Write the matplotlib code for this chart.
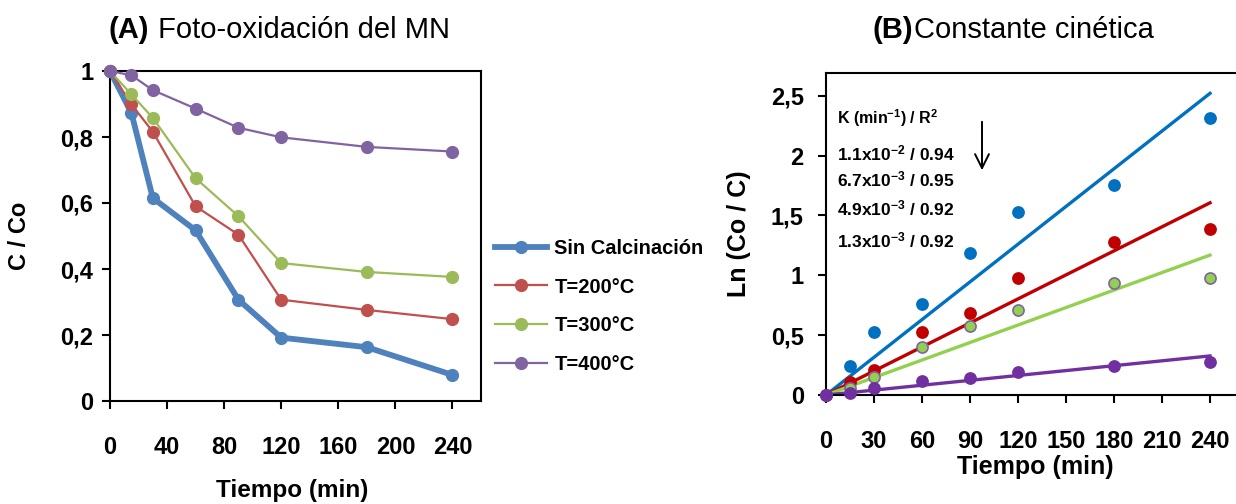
import matplotlib
matplotlib.use("Agg")
import matplotlib.pyplot as plt
import numpy as np

plt.rcParams['font.family'] = ['Liberation Sans', 'DejaVu Sans']
plt.rcParams['mathtext.fontset'] = 'custom'
plt.rcParams['mathtext.rm'] = 'Liberation Sans:bold'
plt.rcParams['mathtext.default'] = 'rm'

W, H = 1236, 504

# tiempo de muestreo (min)
t = [0, 15, 30, 60, 90, 120, 180, 240]

# (A) C/Co
cc_sin = [1.0, 0.873, 0.615, 0.517, 0.307, 0.192, 0.163, 0.079]
cc_200 = [1.0, 0.899, 0.816, 0.590, 0.504, 0.307, 0.276, 0.248]
cc_300 = [1.0, 0.929, 0.858, 0.675, 0.560, 0.418, 0.391, 0.376]
cc_400 = [1.0, 0.987, 0.942, 0.886, 0.828, 0.799, 0.770, 0.756]
labels_a = ['Sin Calcinación', 'T=200°C', 'T=300°C', 'T=400°C']

# (B) Ln(Co/C)
ln_sin = [0.0, 0.242, 0.523, 0.760, 1.183, 1.526, 1.751, 2.313]
ln_200 = [0.0, 0.111, 0.209, 0.523, 0.682, 0.974, 1.281, 1.386]
ln_300 = [0.0, 0.060, 0.153, 0.398, 0.579, 0.710, 0.938, 0.974]
ln_400 = [0.0, 0.014, 0.056, 0.120, 0.139, 0.195, 0.245, 0.276]
# pendientes de las rectas de ajuste (min^-1)
k_fit = [0.0105, 0.00669, 0.00487, 0.00136]
t_fit = [0, 240]
k_head = 'K (min$^{-1}$) / R$^{2}$'
k_text = ['1.1x10$^{-2}$ / 0.94', '6.7x10$^{-3}$ / 0.95',
          '4.9x10$^{-3}$ / 0.92', '1.3x10$^{-3}$ / 0.92']

cols_a = ['#4F81BD', '#C0504D', '#9BBB59', '#8064A2']
cols_b = ['#0070C0', '#C00000', '#92D050', '#7030A0']


def box(x0, y0, x1, y1):
    # pixel box (top-left origin) -> figure fraction rect
    return [x0 / W, 1 - y1 / H, (x1 - x0) / W, (y1 - y0) / H]


def fx(x):
    return x / W


def fy(y):
    return 1 - y / H


fig = plt.figure(figsize=(W / 100, H / 100), dpi=100)

# ---------------- (A) ----------------
ax1 = fig.add_axes(box(110, 71, 481, 401))
series_a = [cc_sin, cc_200, cc_300, cc_400]
for i, yv in enumerate(series_a):
    lw = 4.2 if i == 0 else 1.6
    ax1.plot(t, yv, '-o', color=cols_a[i], lw=lw, ms=8.5, label=labels_a[i],
             clip_on=False, zorder=3)
ax1.set_xlim(0, 260)
ax1.set_ylim(0, 1)
ax1.set_xticks(np.arange(0, 241, 40))
ax1.set_yticks(np.arange(0, 1.01, 0.2))
ax1.set_yticklabels(['0', '0,2', '0,4', '0,6', '0,8', '1'])
ax1.tick_params(direction='out', length=6, width=1.5, labelsize=17)
ax1.tick_params(axis='x', pad=19)
ax1.tick_params(axis='y', pad=6)
for lab in ax1.get_xticklabels() + ax1.get_yticklabels():
    lab.set_fontweight('bold')
for s in ax1.spines.values():
    s.set_linewidth(1.5)
fig.text(fx(19), fy(236), 'C / Co', rotation=90, ha='center', va='center',
         fontsize=17, fontweight='bold')
fig.text(fx(292), fy(490), 'Tiempo (min)', ha='center', va='center',
         fontsize=17.5, fontweight='bold')
leg = ax1.legend(loc='upper left', bbox_to_anchor=(fx(495), fy(239)),
                 bbox_transform=fig.transFigure, frameon=False, borderpad=0,
                 borderaxespad=0, handlelength=2.6, handletextpad=0.35,
                 labelspacing=0.97, prop={'weight': 'bold', 'size': 14.5})
ta = fig.text(fx(109), fy(30), '(A)', fontsize=21, fontweight='bold', va='center')
ax1.annotate(' Foto-oxidación del MN', xy=(1, 0), xycoords=ta, va='bottom',
             fontsize=21)

# ---------------- (B) ----------------
ax2 = fig.add_axes(box(826, 73, 1258, 395))
series_b = [ln_sin, ln_200, ln_300, ln_400]
for i in range(4):
    ax2.plot(t_fit, np.array(t_fit) * k_fit[i], color=cols_b[i], lw=2.4, zorder=2)
for i, yv in enumerate(series_b):
    mec = '#8064A2' if i == 2 else cols_b[i]
    ax2.plot(t, yv, 'o', color=cols_b[i], mec=mec, mew=1.2, ms=8,
             clip_on=False, zorder=3)
ax2.set_xlim(0, 270)
ax2.set_ylim(0, 2.69)
ax2.set_xticks(np.arange(0, 241, 30))
ax2.set_yticks(np.arange(0, 2.51, 0.5))
ax2.set_yticklabels(['0', '0,5', '1', '1,5', '2', '2,5'])
ax2.tick_params(direction='out', length=6, width=1.5, labelsize=17)
ax2.tick_params(axis='x', pad=19)
ax2.tick_params(axis='y', pad=10)
for lab in ax2.get_xticklabels() + ax2.get_yticklabels():
    lab.set_fontweight('bold')
for s in ax2.spines.values():
    s.set_linewidth(1.5)
fig.text(fx(739), fy(234), 'Ln (Co / C)', rotation=90, ha='center', va='center',
         fontsize=18, fontweight='bold')
fig.text(fx(1035), fy(467), 'Tiempo (min)', ha='center', va='center',
         fontsize=18, fontweight='bold')
tb = fig.text(fx(873), fy(30), '(B)', fontsize=21, fontweight='bold', va='center')
ax2.annotate('Constante cinética', xy=(1, 0), xycoords=tb, va='bottom',
             fontsize=21)

fig.text(fx(837), fy(118), k_head, fontsize=11.5, fontweight='bold', va='center')
k_y = [153, 179, 208, 240]
for yy, s in zip(k_y, k_text):
    fig.text(fx(837), fy(yy), s, fontsize=12.5, fontweight='bold', va='center')
ax2.annotate('', xy=(fx(982), fy(173)), xytext=(fx(982), fy(119)),
             xycoords='figure fraction',
             arrowprops=dict(arrowstyle='->', color='black', lw=1.4,
                             mutation_scale=25))

fig.savefig('out.png', dpi=100)
